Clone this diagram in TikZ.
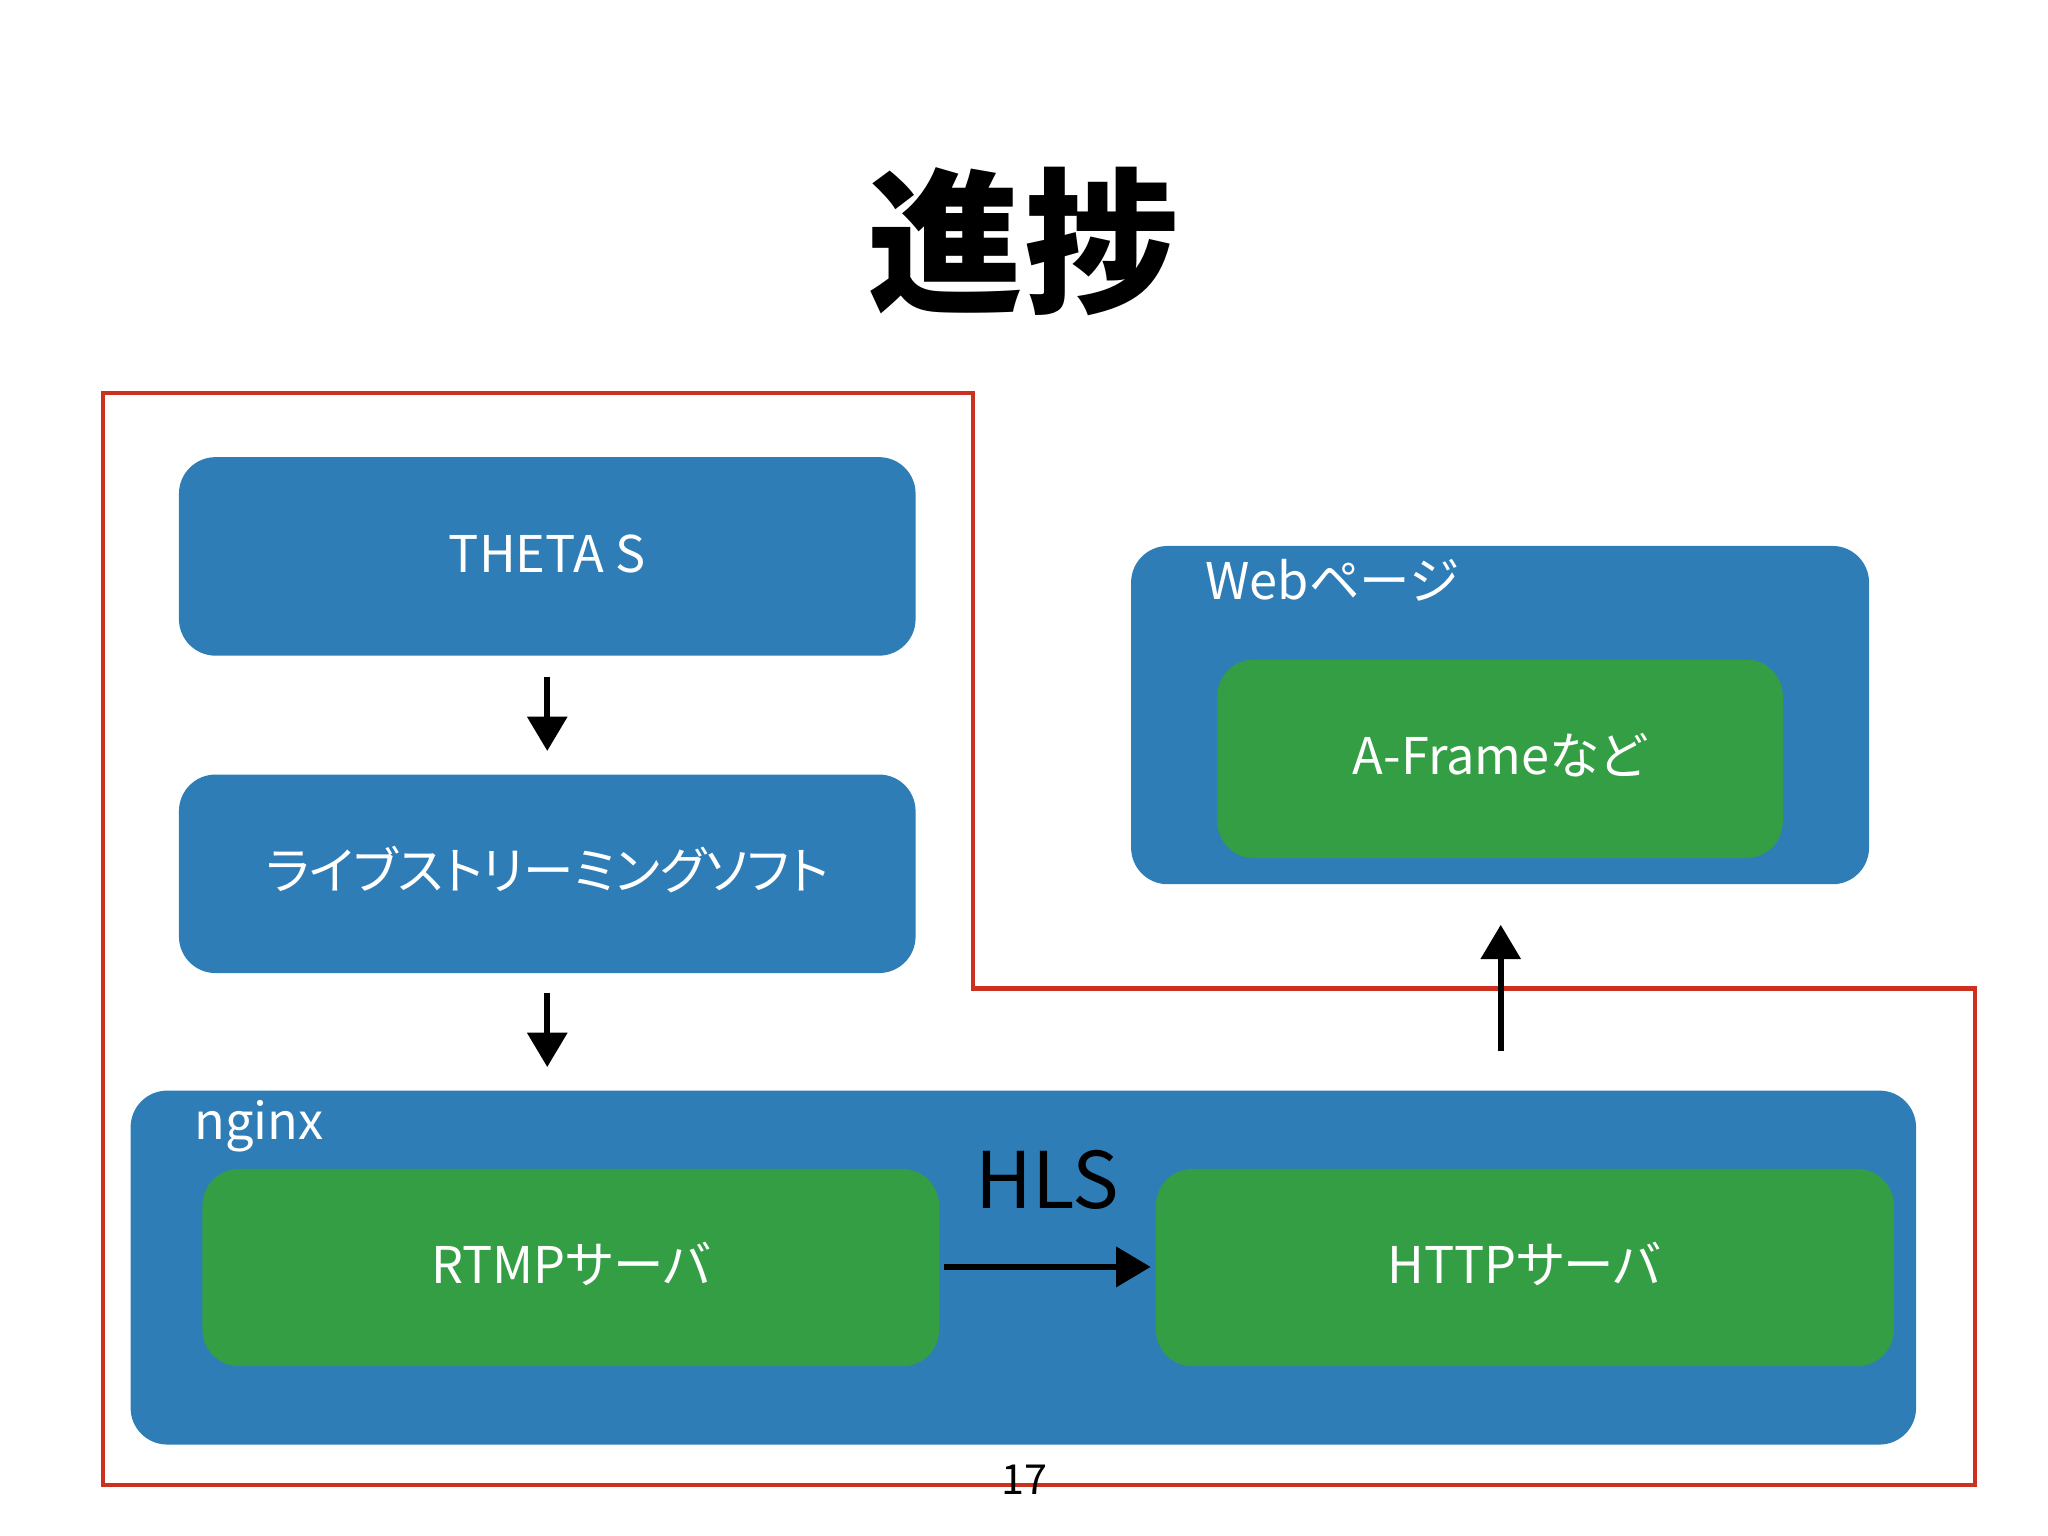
\documentclass[tikz,border=0pt]{standalone}
\usepackage{fontspec}
\setmainfont{Noto Sans CJK JP}[RawFeature=+palt]
\usetikzlibrary{arrows.meta}
\definecolor{boxblue}{RGB}{46,125,182}
\definecolor{boxgreen}{RGB}{52,158,68}
\definecolor{outred}{RGB}{204,48,30}
\begin{document}
\begin{tikzpicture}[x=0.01cm,y=-0.01cm,
  box/.style={draw=none,rounded corners=0.28cm,inner sep=0pt},
  blue box/.style={box,fill=boxblue},
  green box/.style={box,fill=boxgreen},
  lbl/.style={text=white,font=\fontsize{11}{13}\selectfont},
  arr/.style={-{Triangle[length=7.5pt,width=8.5pt]},line width=1.4pt}]
  \useasboundingbox (0,0) rectangle (1568,1176);
  \node[font=\fontsize{34}{38}\selectfont\bfseries] (title) at (784,185) {進捗};
  % red outline
  \draw[outred,line width=1pt] (79,301) -- (745,301) -- (745,757) -- (1512,757)
    -- (1512,1137) -- (79,1137) -- cycle;
  % left column
  \fill[blue box] (137,350) rectangle (701,502);
  \node[lbl] (theta) at (419,424) {THETA S};
  \coordinate (thetaS) at (419,502);
  \fill[blue box] (137,593) rectangle (701,745);
  \node[lbl] (live) at (419,666) {ライブストリーミングソフト};
  \coordinate (liveN) at (419,593);
  \coordinate (liveS) at (419,745);
  % nginx
  \fill[blue box] (100,835) rectangle (1467,1106);
  \node[lbl,anchor=west,inner sep=0pt] (nginx) at (148,862) {nginx};
  \coordinate (nginxN) at (419,835);
  \fill[green box] (155,895) rectangle (719,1046);
  \node[lbl] (rtmp) at (437,968) {RTMPサーバ};
  \fill[green box] (885,895) rectangle (1450,1046);
  \node[lbl] (http) at (1167,968) {HTTPサーバ};
  \coordinate (rtmpE) at (719,970);
  \coordinate (httpW) at (885,970);
  \node[font=\fontsize{17}{20}\selectfont] (hls) at (802,903) {HLS};
  % web page
  \fill[blue box] (866,418) rectangle (1431,677);
  \node[lbl,anchor=west,inner sep=0pt] (web) at (922,444) {Webページ};
  \fill[green box] (932,505) rectangle (1365,657);
  \node[lbl] (aframe) at (1148,578) {A-Frameなど};
  \coordinate (webS) at (1149,677);
  \coordinate (nginxN2) at (1149,835);
  % arrows
  \draw[arr,shorten <=0.16cm,shorten >=0.18cm] (thetaS) -- (liveN);
  \draw[arr,shorten <=0.15cm,shorten >=0.18cm] (liveS) -- (nginxN);
  \draw[arr,shorten <=0.04cm,shorten >=0.04cm] (rtmpE) -- (httpW);
  \draw[arr,shorten <=0.30cm,shorten >=0.31cm] (nginxN2) -- (webS);
  \node[font=\fontsize{9}{10}\selectfont] (page) at (784,1133) {17};
\end{tikzpicture}
\end{document}
